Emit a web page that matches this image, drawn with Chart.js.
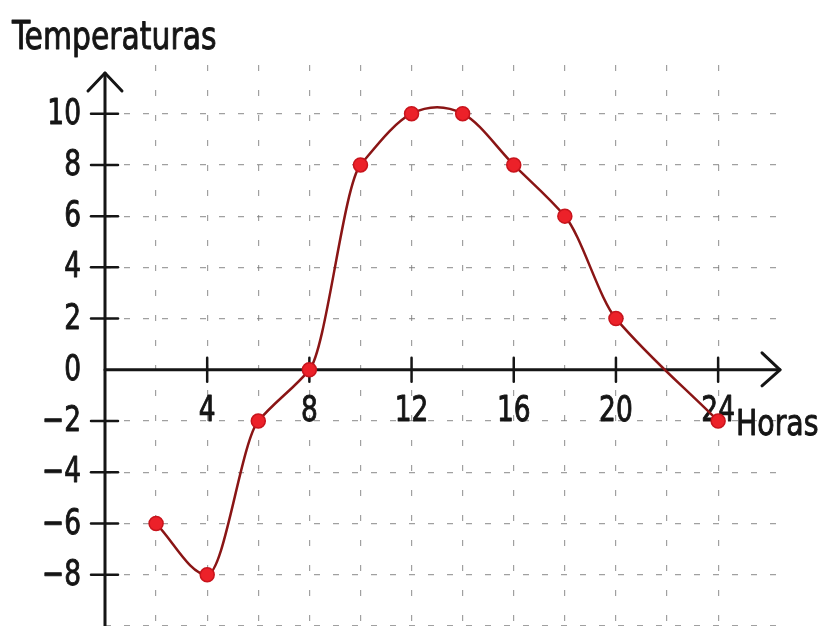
<!DOCTYPE html>
<html>
<head>
<meta charset="utf-8">
<script src="https://cdn.jsdelivr.net/npm/chart.js@4.4.0/dist/chart.umd.min.js"></script>
<style>
  html, body { margin: 0; padding: 0; background: #fff; }
  #wrap { width: 820px; height: 626px; }
</style>
</head>
<body>
<div id="wrap"><canvas id="chart"></canvas></div>
<script>
const horas = [2, 4, 6, 8, 10, 12, 14, 16, 18, 20, 24];
const temperaturas = [-6, -8, -2, 0, 8, 10, 10, 8, 6, 2, -2];
const xTickLabels = [4, 8, 12, 16, 20, 24];
const yTickLabels = [10, 8, 6, 4, 2, 0, -2, -4, -6, -8];

const FONT = '"Liberation Sans Narrow", "DejaVu Sans Condensed", "Open Sans", sans-serif';
const INK = '#151515';

// squeeze text horizontally, the original uses a condensed face
function fillNarrow(ctx, text, x, y, sx) {
  ctx.save();
  ctx.translate(x, y);
  ctx.scale(sx, 1);
  ctx.fillText(text, 0, 0);
  ctx.strokeText(text, 0, 0);
  ctx.restore();
}

// hand-drawn look axes: arrows, tick marks and labels placed on the scales
const axesPlugin = {
  id: 'axes',
  beforeDatasetsDraw(chart) {
    const { ctx, scales: { x, y } } = chart;
    const x0 = x.getPixelForValue(0);
    const y0 = y.getPixelForValue(0);
    ctx.save();
    ctx.strokeStyle = INK;
    ctx.lineWidth = 3;
    ctx.lineCap = 'round';
    ctx.lineJoin = 'round';

    // vertical axis with arrow
    ctx.beginPath();
    ctx.moveTo(x0, chart.height);
    ctx.lineTo(x0, 73);
    ctx.stroke();
    ctx.beginPath();
    ctx.moveTo(x0 - 17, 91);
    ctx.lineTo(x0, 73);
    ctx.lineTo(x0 + 17, 91);
    ctx.stroke();

    // horizontal axis with arrow
    ctx.beginPath();
    ctx.moveTo(x0, y0);
    ctx.lineTo(780, y0);
    ctx.stroke();
    ctx.beginPath();
    ctx.moveTo(762, y0 - 17);
    ctx.lineTo(780, y0);
    ctx.lineTo(762, y0 + 16);
    ctx.stroke();

    // tick marks
    ctx.lineWidth = 2.5;
    yTickLabels.forEach(v => {
      if (v === 0) return;
      const py = y.getPixelForValue(v);
      ctx.beginPath();
      ctx.moveTo(x0 - 14, py);
      ctx.lineTo(x0 + 13, py);
      ctx.stroke();
    });
    xTickLabels.forEach(v => {
      const px = x.getPixelForValue(v);
      ctx.beginPath();
      ctx.moveTo(px, y0 - 12);
      ctx.lineTo(px, y0 + 12);
      ctx.stroke();
    });

    // labels
    ctx.fillStyle = INK;
    ctx.lineWidth = 0.9;
    ctx.font = '35px ' + FONT;
    ctx.textAlign = 'right';
    ctx.textBaseline = 'middle';
    yTickLabels.forEach(v => {
      const txt = v < 0 ? '\u2212' + Math.abs(v) : String(v);
      fillNarrow(ctx, txt, x0 - 24, y.getPixelForValue(v) + 1, 0.84);
    });
    ctx.textAlign = 'center';
    xTickLabels.forEach(v => {
      fillNarrow(ctx, String(v), x.getPixelForValue(v), y0 + 42, 0.84);
    });

    ctx.textAlign = 'left';
    fillNarrow(ctx, 'Horas', 736, y0 + 56, 0.9);
    ctx.font = '39px ' + FONT;
    ctx.textBaseline = 'alphabetic';
    fillNarrow(ctx, 'Temperaturas', 12, 49, 0.85);
    ctx.restore();
  }
};

// hermite control points in data space, mapped through the scales.
// slopes lean to the gentler neighbour (power mean, p = -4) like the drawn curve
const smoothPlugin = {
  id: 'smooth',
  beforeDatasetDraw(chart, args) {
    const line = args.meta.dataset;
    const pts = args.meta.data;
    const n = horas.length;
    if (!line || pts.length !== n) return;
    line.updateControlPoints(chart.chartArea, 'x');
    const { x, y } = chart.scales;
    const h = [], s = [];
    for (let i = 0; i < n - 1; i++) {
      h.push(horas[i + 1] - horas[i]);
      s.push((temperaturas[i + 1] - temperaturas[i]) / h[i]);
    }
    const m = [s[0]];
    for (let i = 1; i < n - 1; i++) {
      const a = s[i - 1], b = s[i];
      if (a * b < 0) m.push(0);
      else if (a === 0 || b === 0) m.push((a + b) / 2);
      else m.push(Math.sign(a) * Math.pow((Math.pow(a, -4) + Math.pow(b, -4)) / 2, -0.25));
    }
    m.push(s[n - 2]);
    for (let i = 0; i < n - 1; i++) {
      const d = h[i] / 3;
      pts[i].cp2x = x.getPixelForValue(horas[i] + d);
      pts[i].cp2y = y.getPixelForValue(temperaturas[i] + m[i] * d);
      pts[i + 1].cp1x = x.getPixelForValue(horas[i + 1] - d);
      pts[i + 1].cp1y = y.getPixelForValue(temperaturas[i + 1] - m[i + 1] * d);
    }
    line._path = undefined;
  }
};

const evenGrid = (lo, hi) => ctx => {
  const v = ctx.tick && ctx.tick.value;
  return (v % 2 === 0 && v !== 0 && v >= lo && v <= hi) ? 'rgba(120,120,120,0.7)' : 'rgba(0,0,0,0)';
};

new Chart(document.getElementById('chart'), {
  type: 'line',
  data: {
    labels: horas,
    datasets: [{
      data: horas.map((h, i) => ({ x: h, y: temperaturas[i] })),
      borderColor: '#8a1515',
      borderWidth: 2.5,
      tension: 0.4,
      pointRadius: 7,
      pointBackgroundColor: '#ec2129',
      pointBorderColor: '#c8141c',
      pointBorderWidth: 1.5,
      fill: false
    }]
  },
  options: {
    responsive: true,
    maintainAspectRatio: false,
    animation: false,
    events: [],
    layout: { autoPadding: false, padding: { left: 105, right: 38, top: 65, bottom: 0 } },
    plugins: { legend: { display: false }, tooltip: { enabled: false } },
    scales: {
      x: {
        type: 'linear',
        min: 0,
        max: 26.5,
        afterFit: s => { s.height = 0; },
        ticks: { display: false, stepSize: 2 },
        grid: { color: evenGrid(2, 24), lineWidth: 1.2, drawTicks: false },
        border: { display: false, dash: [6, 19] }
      },
      y: {
        min: -10,
        max: 11.9,
        afterFit: s => { s.width = 0; },
        ticks: { display: false, stepSize: 2 },
        grid: { color: evenGrid(-10, 10), lineWidth: 1.2, drawTicks: false },
        border: { display: false, dash: [6, 13] }
      }
    }
  },
  plugins: [axesPlugin, smoothPlugin]
});
</script>
</body>
</html>
